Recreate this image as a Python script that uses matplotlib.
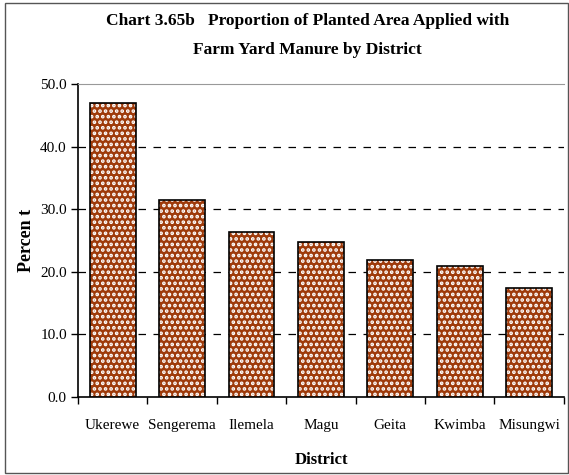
import matplotlib
matplotlib.use("Agg")
import matplotlib.pyplot as plt
from matplotlib.patches import Rectangle
import numpy as np

districts = ["Ukerewe", "Sengerema", "Ilemela", "Magu", "Geita", "Kwimba", "Misungwi"]
percent = [47.0, 31.5, 26.4, 24.8, 21.9, 21.0, 17.4]
yticks = [0, 10, 20, 30, 40, 50]

plt.rcParams["font.family"] = ["Liberation Serif", "DejaVu Serif"]
plt.rcParams["hatch.linewidth"] = 1.8

fig = plt.figure(figsize=(5.69, 4.75), dpi=100)
ax = fig.add_axes([0.137, 0.164, 0.854, 0.659])

x = np.arange(len(districts))
# patterned fill, then a plain black outline on top
ax.bar(x, percent, width=0.66, color="#9E3A0A", edgecolor="white",
       hatch="...", linewidth=0, zorder=3)
ax.bar(x, percent, width=0.66, fill=False, edgecolor="black",
       linewidth=1.2, zorder=4)

ax.set_xlim(-0.5, len(districts) - 0.5)
ax.set_ylim(0, 50)
ax.set_yticks(yticks)
ax.set_yticklabels([f"{v:.1f}" for v in yticks], fontsize=11)
ax.set_xticks(x)
ax.set_xticklabels(districts, fontsize=11)
ax.set_xticks(np.arange(-0.5, len(districts)), minor=True)
ax.tick_params(axis="x", which="major", length=0, pad=16)
ax.tick_params(axis="x", which="minor", length=5, width=1, direction="out")
ax.tick_params(axis="y", length=5, width=1, direction="out", pad=3)

for v in yticks[1:-1]:
    ax.axhline(v, color="black", lw=0.9, ls=(0, (6, 6)), zorder=1)

ax.spines["right"].set_visible(False)
ax.spines["top"].set_color("#999999")
ax.spines["left"].set_linewidth(1.2)
ax.spines["bottom"].set_linewidth(1.2)

ax.set_xlabel("District", fontsize=12, fontweight="bold", labelpad=14)
ax.set_ylabel("Percen t", fontsize=13, fontweight="bold", labelpad=4)

fig.text(0.54, 0.956, "Chart 3.65b   Proportion of Planted Area Applied with",
         ha="center", va="center", fontsize=12.5, fontweight="bold")
fig.text(0.54, 0.895, "Farm Yard Manure by District",
         ha="center", va="center", fontsize=12.5, fontweight="bold")

# outer frame of the chart
fig.patches.append(Rectangle((0.008, 0.004), 0.99, 0.99, transform=fig.transFigure,
                             fill=False, edgecolor="#555555", lw=1))

fig.savefig("out.png", dpi=100)
